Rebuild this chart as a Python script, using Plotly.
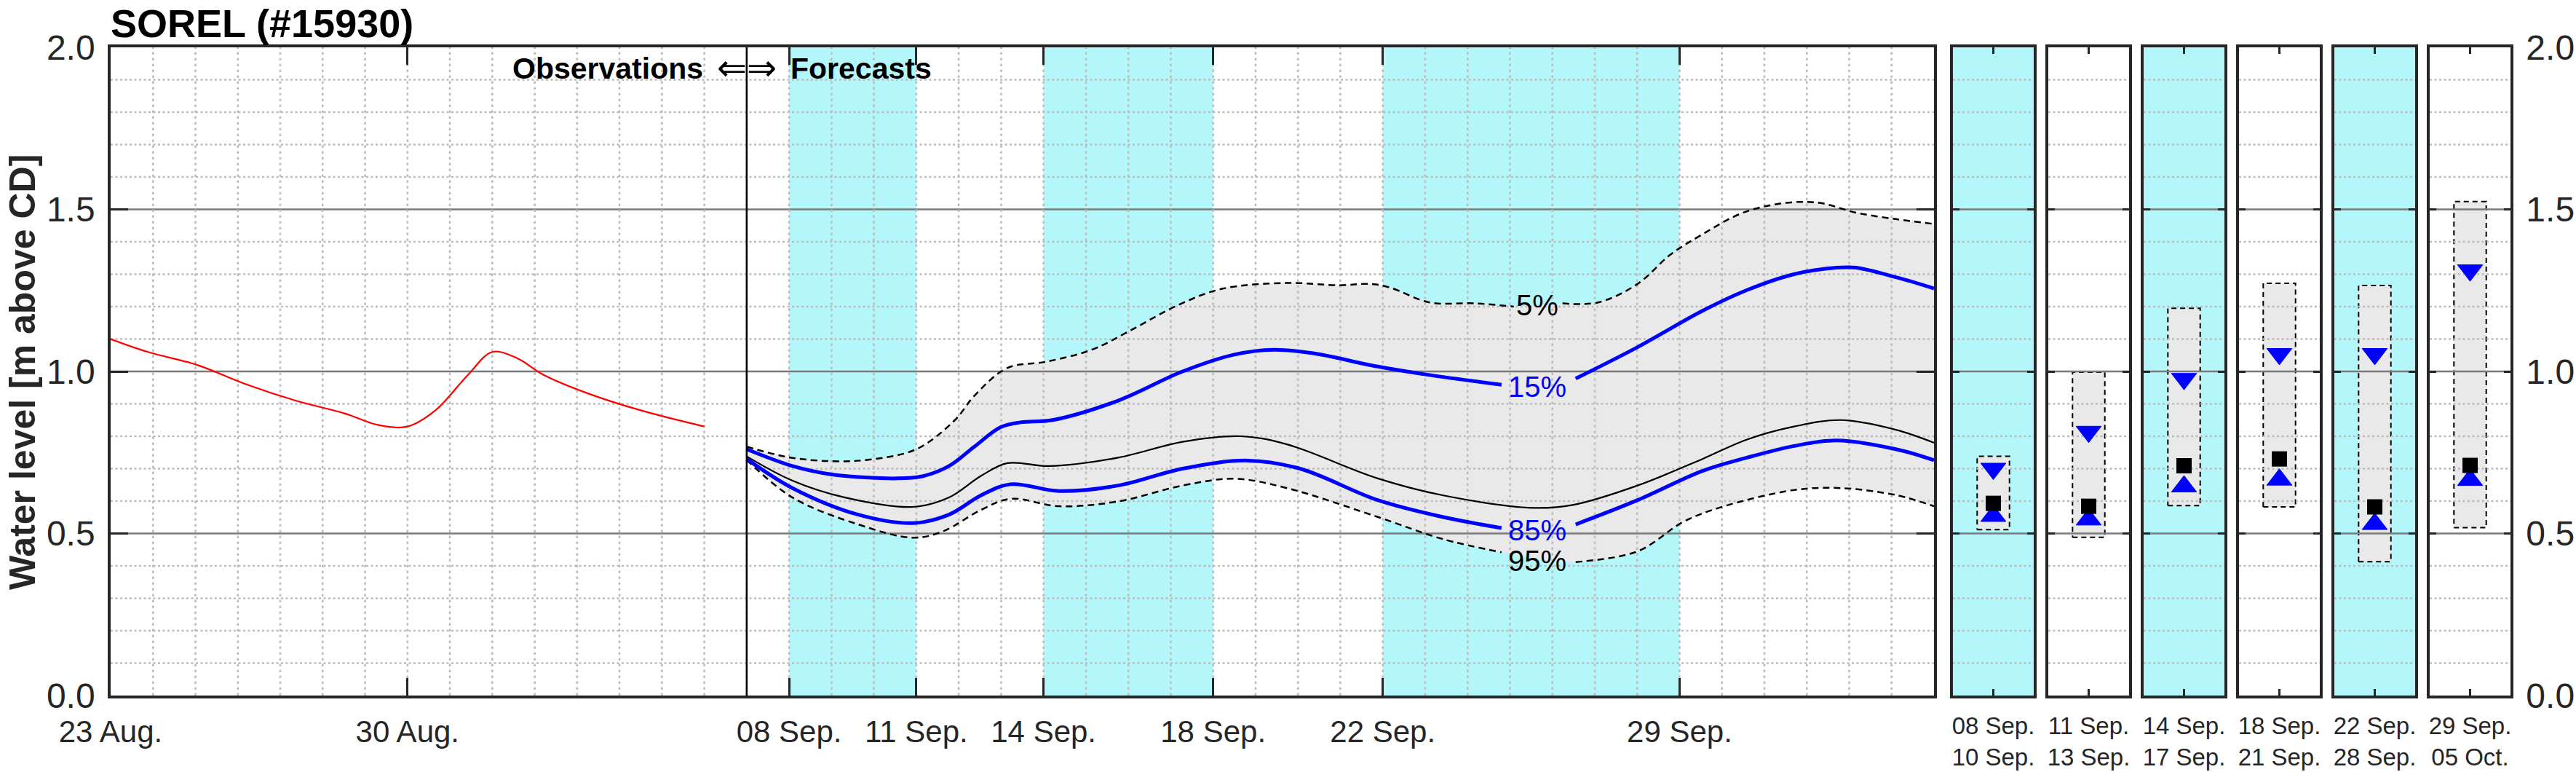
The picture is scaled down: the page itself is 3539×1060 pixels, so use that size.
import plotly.graph_objects as go
import pandas as pd

W, H = 3539, 1060
BASE = pd.Timestamp("2023-08-23")
FONT = "Liberation Sans, Arial, Helvetica, sans-serif"
FRAME = "#262626"
CYAN = "#b3f7fa"
GRAY_FILL = "#e9e9e9"

# ---------------- data (days counted from 23 Aug.) ----------------
obs_day = [0.0, 0.88, 2.04, 3.2, 4.36, 5.53, 6.3, 7.0, 7.66, 8.43, 9.0, 9.6, 10.2, 11.3, 12.5, 14.0]
obs_val = [1.10, 1.06, 1.02, 0.96, 0.91, 0.87, 0.835, 0.83, 0.88, 0.99, 1.06, 1.04, 0.99, 0.93, 0.88, 0.83]

p05_day = [15.0, 16.0, 17.01, 17.9, 19.0, 19.91, 20.37, 21.15, 22.06, 23.14, 24.06, 25.13, 26.21, 27.74,
           28.96, 29.73, 30.19, 31.10, 32.18, 33.09, 34.24, 35.08, 36.01, 36.78, 37.5, 38.5, 39.5, 40.3,
           41.16, 42.1, 43.0]
p05_val = [0.768, 0.735, 0.723, 0.728, 0.760, 0.850, 0.925, 1.011, 1.03, 1.067, 1.127, 1.202, 1.255, 1.273,
           1.266, 1.27, 1.258, 1.213, 1.21, 1.20, 1.21, 1.213, 1.27, 1.36, 1.42, 1.49, 1.52, 1.52,
           1.49, 1.47, 1.455]

p15_day = [15.0, 16.08, 17.01, 18.54, 19.16, 19.77, 20.37, 20.99, 21.46, 22.21, 23.76, 25.28, 26.50, 27.43,
           28.36, 29.88, 31.10, 32.80, 34.55, 36.01, 37.54, 38.59, 39.7, 40.7, 41.16, 42.12, 43.0]
p15_val = [0.760, 0.708, 0.682, 0.670, 0.677, 0.708, 0.768, 0.828, 0.843, 0.85, 0.91, 1.0, 1.052, 1.067,
           1.056, 1.015, 0.989, 0.959, 0.978, 1.075, 1.187, 1.251, 1.30, 1.32, 1.32, 1.29, 1.256]

p50_day = [15.0, 16.08, 17.32, 18.92, 19.77, 20.53, 21.15, 22.14, 23.76, 25.28, 26.66, 27.74, 29.88, 31.41,
           33.56, 34.48, 36.01, 37.54, 38.59, 39.7, 40.8, 42.1, 43.0]
p50_val = [0.738, 0.663, 0.611, 0.582, 0.611, 0.678, 0.717, 0.708, 0.734, 0.783, 0.80, 0.775, 0.670, 0.618,
           0.579, 0.588, 0.648, 0.730, 0.790, 0.83, 0.85, 0.82, 0.78]

p85_day = [15.0, 16.08, 17.63, 18.92, 19.77, 20.53, 21.22, 22.37, 23.76, 25.28, 26.81, 28.05, 29.88, 31.41,
           32.80, 34.55, 36.01, 37.54, 38.59, 39.7, 40.70, 42.1, 43.0]
p85_val = [0.73, 0.64, 0.558, 0.532, 0.558, 0.618, 0.652, 0.631, 0.648, 0.70, 0.725, 0.70, 0.603, 0.551,
           0.517, 0.528, 0.603, 0.693, 0.734, 0.77, 0.787, 0.76, 0.726]

p95_day = [15.0, 16.08, 17.63, 18.92, 19.62, 20.53, 21.22, 22.37, 23.76, 25.28, 26.50, 27.74, 29.88, 31.41,
           32.80, 34.55, 36.01, 37.09, 37.95, 39.70, 40.80, 42.12, 43.0]
p95_val = [0.727, 0.611, 0.528, 0.487, 0.506, 0.573, 0.607, 0.584, 0.599, 0.648, 0.669, 0.64, 0.551, 0.483,
           0.442, 0.412, 0.445, 0.536, 0.58, 0.634, 0.640, 0.618, 0.584]

label_day = 33.64
label_text = ["5%", "15%", "85%", "95%"]
label_val = [1.204, 0.953, 0.510, 0.416]
label_color = ["black", "#0000ff", "#0000ff", "black"]

main_tick_day = [0, 7, 16, 19, 22, 26, 30, 37]
main_tick_text = ["23 Aug.", "30 Aug.", "08 Sep.", "11 Sep.", "14 Sep.", "18 Sep.", "22 Sep.", "29 Sep."]
cyan_start_day = [16, 22, 30]
cyan_end_day = [19, 26, 37]
forecast_start_day = 15
x_end_day = 43

y_tick_vals = [0.0, 0.5, 1.0, 1.5, 2.0]
y_tick_text = ["0.0", "0.5", "1.0", "1.5", "2.0"]

panel_labels = ["08 Sep.<br>10 Sep.", "11 Sep.<br>13 Sep.", "14 Sep.<br>17 Sep.",
                "18 Sep.<br>21 Sep.", "22 Sep.<br>28 Sep.", "29 Sep.<br>05 Oct."]
panel_cyan = [True, False, True, False, True, False]
panel_box_low = [0.512, 0.488, 0.586, 0.582, 0.413, 0.518]
panel_box_high = [0.738, 0.998, 1.195, 1.272, 1.265, 1.524]
panel_p15 = [0.700, 0.814, 0.977, 1.054, 1.054, 1.312]
panel_p50 = [0.593, 0.584, 0.709, 0.730, 0.582, 0.710]
panel_p85 = [0.554, 0.543, 0.645, 0.666, 0.529, 0.665]


def d2t(d):
    return BASE + pd.to_timedelta(d, unit="D")


def dates(days):
    return [d2t(d) for d in days]


def split_gap(days, vals, center, half):
    xs, ys = [], []
    inserted = False
    for d, v in zip(days, vals):
        if center - half < d < center + half:
            continue
        if d >= center + half and not inserted:
            xs.append(None)
            ys.append(None)
            inserted = True
        xs.append(d2t(d))
        ys.append(v)
    return xs, ys


fig = go.Figure()

# --------- layout geometry (pixels) ---------
MX0, MX1 = 152, 2657
Y_TOP, Y_BOT = 65, 955
panel_left = [2683 + 131 * i for i in range(6)]
panel_w = 111


def px_x(p):
    return p / W


def px_y(p):
    return (H - p) / H


ydom = [px_y(Y_BOT), px_y(Y_TOP)]

# --------- main plot fill ---------
fig.add_trace(go.Scatter(x=dates(p05_day), y=p05_val, mode="lines", line=dict(width=0, shape="spline"),
                         hoverinfo="skip", showlegend=False, xaxis="x", yaxis="y"))
fig.add_trace(go.Scatter(x=dates(p95_day), y=p95_val, mode="lines", line=dict(width=0, shape="spline"),
                         fill="tonexty", fillcolor=GRAY_FILL, hoverinfo="skip", showlegend=False,
                         xaxis="x", yaxis="y"))


# --------- grid lines (drawn as traces above fill) ---------
def grid_traces(xa, ya, x0, x1, vertical_days):
    hx, hy, mx, my = [], [], [], []
    for k in range(1, 20):
        v = k / 10
        if k % 5 == 0:
            mx += [x0, x1, None]
            my += [v, v, None]
        else:
            hx += [x0, x1, None]
            hy += [v, v, None]
    out = [
        go.Scatter(x=hx, y=hy, mode="lines", line=dict(color="#bcbcbc", width=2.5, dash="3px,3.5px"),
                   hoverinfo="skip", showlegend=False, xaxis=xa, yaxis=ya),
        go.Scatter(x=mx, y=my, mode="lines", line=dict(color="#7a7a7a", width=2.5),
                   hoverinfo="skip", showlegend=False, xaxis=xa, yaxis=ya),
    ]
    if vertical_days:
        vx, vy = [], []
        for d in vertical_days:
            vx += [d2t(d), d2t(d), None]
            vy += [0, 2, None]
        out.append(go.Scatter(x=vx, y=vy, mode="lines",
                              line=dict(color="#bcbcbc", width=2.5, dash="3.5px,4.5px"),
                              hoverinfo="skip", showlegend=False, xaxis=xa, yaxis=ya))
    return out


for t in grid_traces("x", "y", d2t(0), d2t(x_end_day), list(range(1, x_end_day))):
    fig.add_trace(t)

# --------- main curves ---------
half_short, half_long = 0.55, 0.82
x5, y5 = split_gap(p05_day, p05_val, label_day, half_short)
x95, y95 = split_gap(p95_day, p95_val, label_day, half_long)
x15, y15 = split_gap(p15_day, p15_val, label_day, half_long)
x85, y85 = split_gap(p85_day, p85_val, label_day, half_long)

for xs, ys in [(x5, y5), (x95, y95)]:
    fig.add_trace(go.Scatter(x=xs, y=ys, mode="lines",
                             line=dict(color="black", width=2.5, dash="9px,6px", shape="spline"),
                             hoverinfo="skip", showlegend=False, xaxis="x", yaxis="y"))
fig.add_trace(go.Scatter(x=dates(p50_day), y=p50_val, mode="lines",
                         line=dict(color="black", width=2.2, shape="spline"),
                         hoverinfo="skip", showlegend=False, xaxis="x", yaxis="y"))
for xs, ys in [(x15, y15), (x85, y85)]:
    fig.add_trace(go.Scatter(x=xs, y=ys, mode="lines",
                             line=dict(color="#0000ff", width=5, shape="spline"),
                             hoverinfo="skip", showlegend=False, xaxis="x", yaxis="y"))
fig.add_trace(go.Scatter(x=dates(obs_day), y=obs_val, mode="lines",
                         line=dict(color="#ff0000", width=2.2, shape="spline"),
                         hoverinfo="skip", showlegend=False, xaxis="x", yaxis="y"))

# --------- panels ---------
box_half = 0.2
for i in range(6):
    xa = "x%d" % (i + 2)
    ya = "y%d" % (i + 2)
    c = 0.5
    fig.add_trace(go.Scatter(
        x=[c - box_half, c + box_half, c + box_half, c - box_half, c - box_half],
        y=[panel_box_low[i], panel_box_low[i], panel_box_high[i], panel_box_high[i], panel_box_low[i]],
        mode="lines", fill="toself", fillcolor=GRAY_FILL,
        line=dict(color="black", width=2, dash="7px,5px"),
        hoverinfo="skip", showlegend=False, xaxis=xa, yaxis=ya))
    for t in grid_traces(xa, ya, 0, 1, None):
        fig.add_trace(t)
    fig.add_trace(go.Scatter(x=[c], y=[panel_p15[i]], mode="markers",
                             marker=dict(symbol="triangle-down", size=30, color="#0000ff",
                                         line=dict(color="#0000ff", width=1)),
                             hoverinfo="skip", showlegend=False, xaxis=xa, yaxis=ya))
    fig.add_trace(go.Scatter(x=[c], y=[panel_p85[i]], mode="markers",
                             marker=dict(symbol="triangle-up", size=30, color="#0000ff",
                                         line=dict(color="#0000ff", width=1)),
                             hoverinfo="skip", showlegend=False, xaxis=xa, yaxis=ya))
    fig.add_trace(go.Scatter(x=[c], y=[panel_p50[i]], mode="markers",
                             marker=dict(symbol="square", size=21, color="black"),
                             hoverinfo="skip", showlegend=False, xaxis=xa, yaxis=ya))

# --------- shapes ---------
shapes = []
for s, e in zip(cyan_start_day, cyan_end_day):
    shapes.append(dict(type="rect", xref="x", yref="y domain", x0=d2t(s), x1=d2t(e), y0=0, y1=1,
                       fillcolor=CYAN, line=dict(width=0), layer="below"))
for i in range(6):
    if panel_cyan[i]:
        shapes.append(dict(type="rect", xref="x%d domain" % (i + 2), yref="y%d domain" % (i + 2),
                           x0=0, x1=1, y0=0, y1=1, fillcolor=CYAN, line=dict(width=0), layer="below"))
shapes.append(dict(type="line", xref="x", yref="y domain", x0=d2t(forecast_start_day),
                   x1=d2t(forecast_start_day), y0=0, y1=1, line=dict(color="black", width=2.5),
                   layer="above"))

# --------- annotations ---------
ann = []
ann.append(dict(text="<b>SOREL (#15930)</b>", xref="paper", yref="paper", x=px_x(150), y=1.0,
                xanchor="left", yanchor="top", showarrow=False,
                font=dict(family=FONT, size=54, color="black")))
ann.append(dict(text="<b>Water level [m above CD]</b>", xref="paper", yref="paper", x=px_x(31),
                y=px_y(511), xanchor="center", yanchor="middle", textangle=-90, showarrow=False,
                font=dict(family=FONT, size=50, color=FRAME)))
ann.append(dict(text="<b>Observations</b>", xref="x", yref="y", x=d2t(forecast_start_day - 1),
                y=1.935, xanchor="right", yanchor="middle", showarrow=False,
                font=dict(family=FONT, size=41, color="black")))
ann.append(dict(text="\u21d0\u21d2", xref="x", yref="y", x=d2t(forecast_start_day),
                y=1.935, xanchor="center", yanchor="middle", showarrow=False,
                font=dict(family="DejaVu Sans", size=49, color="black")))
ann.append(dict(text="<b>Forecasts</b>", xref="x", yref="y", x=d2t(forecast_start_day + 1),
                y=1.935, xanchor="left", yanchor="middle", showarrow=False,
                font=dict(family=FONT, size=41, color="black")))
for t, v, col in zip(label_text, label_val, label_color):
    ann.append(dict(text=t, xref="x", yref="y", x=d2t(label_day), y=v, xanchor="center",
                    yanchor="middle", showarrow=False, font=dict(family=FONT, size=40, color=col)))

layout = dict(
    width=W, height=H, margin=dict(l=0, r=0, t=0, b=0, pad=0, autoexpand=False),
    paper_bgcolor="white", plot_bgcolor="white",
    showlegend=False, shapes=shapes, annotations=ann,
    font=dict(family=FONT, color=FRAME),
)

axis_common = dict(showline=True, linewidth=3.5, linecolor=FRAME, mirror="ticks", ticks="inside",
                   tickwidth=3, tickcolor=FRAME, showgrid=False, zeroline=False, automargin=False)

layout["xaxis"] = dict(axis_common, domain=[px_x(MX0), px_x(MX1)], type="date",
                       range=[d2t(0), d2t(x_end_day)], tickvals=dates(main_tick_day),
                       ticktext=main_tick_text, ticklen=24, tickfont=dict(size=42, color=FRAME),
                       anchor="y", ticklabelstandoff=10)
layout["yaxis"] = dict(axis_common, domain=ydom, range=[0, 2], tickvals=y_tick_vals, ticktext=y_tick_text,
                       ticklen=24, tickfont=dict(size=48, color=FRAME), anchor="x", ticklabelstandoff=8)
for i in range(6):
    n = i + 2
    layout["xaxis%d" % n] = dict(axis_common, domain=[px_x(panel_left[i]), px_x(panel_left[i] + panel_w)],
                                 range=[0, 1], tickvals=[0.5], ticktext=[panel_labels[i]], ticklen=9,
                                 tickfont=dict(size=33, color=FRAME), anchor="y%d" % n,
                                 ticklabelstandoff=10)
    ydict = dict(axis_common, domain=ydom, range=[0, 2], tickvals=y_tick_vals, ticktext=y_tick_text,
                 ticklen=9, anchor="x%d" % n, showticklabels=(i == 5),
                 tickfont=dict(size=48, color=FRAME))
    if i == 5:
        ydict["side"] = "right"
        ydict["ticklabelstandoff"] = 8
    layout["yaxis%d" % n] = ydict

fig.update_layout(**layout)
fig.write_html("out.html")
